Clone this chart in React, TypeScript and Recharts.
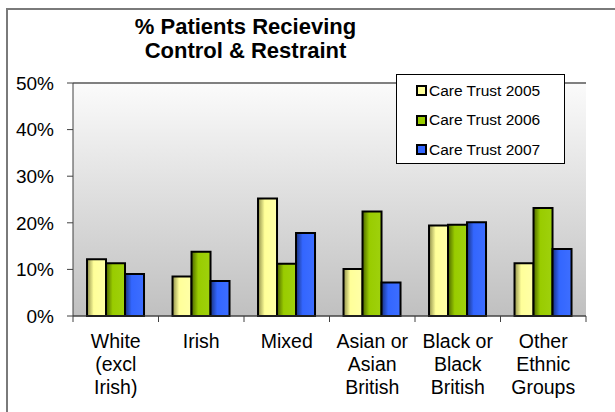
import * as React from 'react';
import { BarChart, Bar, XAxis, YAxis, CartesianGrid, ReferenceLine } from 'recharts';

const categories = [
    'White\n(excl\nIrish)',
    'Irish',
    'Mixed',
    'Asian or\nAsian\nBritish',
    'Black or\nBlack\nBritish',
    'Other\nEthnic\nGroups',
];
const trust2005 = [12.2, 8.5, 25.2, 10.1, 19.4, 11.3];
const trust2006 = [11.3, 13.8, 11.2, 22.4, 19.6, 23.2];
const trust2007 = [9.0, 7.5, 17.8, 7.2, 20.1, 14.4];
const seriesNames = ['Care Trust 2005', 'Care Trust 2006', 'Care Trust 2007'];
const yTicks = [0, 10, 20, 30, 40, 50];

const FONT = '"Liberation Sans", Arial, sans-serif';
const WIDTH = 615;
const HEIGHT = 412;
const PLOT_LEFT = 73;
const PLOT_RIGHT = 586;
const HALF_BAND = (PLOT_RIGHT - PLOT_LEFT) / categories.length / 2;

const seriesStyle = [
    { key: 'y2005', id: 'gradYellow', dark: '#8f8f4a', base: '#ffff99', light: '#ffffa8' },
    { key: 'y2006', id: 'gradGreen', dark: '#4d6600', base: '#99cc00', light: '#9fd10d' },
    { key: 'y2007', id: 'gradBlue', dark: '#1a3380', base: '#3366ff', light: '#3d6eff' },
];

const data = categories.map((name, i) => ({
    name,
    y2005: trust2005[i],
    y2006: trust2006[i],
    y2007: trust2007[i],
}));

function CategoryTick(props: any) {
    const { x, y, payload, index } = props;
    const lines = String(payload.value).split('\n');
    return (
        <g>
            <line x1={x - HALF_BAND} y1={y} x2={x - HALF_BAND} y2={y + 6} stroke="#404040" />
            {index === categories.length - 1 && (
                <line x1={x + HALF_BAND} y1={y} x2={x + HALF_BAND} y2={y + 6} stroke="#404040" />
            )}
            <text x={x} y={y} textAnchor="middle" fill="#000" fontSize={19.5} fontFamily={FONT}>
                {lines.map((l, i) => (
                    <tspan key={i} x={x} dy={i === 0 ? 32 : 23}>
                        {l}
                    </tspan>
                ))}
            </text>
        </g>
    );
}

function LegendBox() {
    return (
        <div
            style={{
                position: 'absolute',
                left: 396,
                top: 74,
                width: 169,
                height: 90,
                border: '1px solid #000',
                background: '#fff',
                boxSizing: 'border-box',
                paddingTop: 1,
            }}
        >
            {seriesNames.map((n, i) => (
                <div
                    key={n}
                    style={{
                        display: 'flex',
                        alignItems: 'center',
                        height: 29.5,
                        paddingLeft: 19,
                        fontFamily: FONT,
                        fontSize: 15.5,
                        color: '#000',
                    }}
                >
                    <span
                        style={{
                            display: 'inline-block',
                            width: 7,
                            height: 7,
                            border: '2px solid #000',
                            background: seriesStyle[i].base,
                            marginRight: 2,
                        }}
                    />
                    {n}
                </div>
            ))}
        </div>
    );
}

export default function App() {
    return (
        <div style={{ position: 'absolute', left: 0, top: 0, width: WIDTH, height: HEIGHT, background: '#fff', overflow: 'hidden' }}>
            <div
                style={{
                    position: 'absolute',
                    left: 6,
                    top: 8,
                    width: WIDTH + 20,
                    height: HEIGHT + 20,
                    borderTop: '2px solid #7a7a7a',
                    borderLeft: '2px solid #7a7a7a',
                }}
            />
            <div
                style={{
                    position: 'absolute',
                    left: 95,
                    width: 301,
                    top: 15,
                    textAlign: 'center',
                    fontFamily: FONT,
                    fontWeight: 'bold',
                    fontSize: 22,
                    lineHeight: '24px',
                    color: '#000',
                }}
            >
                % Patients Recieving
                <br />
                Control &amp; Restraint
            </div>
            <BarChart
                width={WIDTH}
                height={HEIGHT}
                data={data}
                margin={{ top: 83, right: WIDTH - PLOT_RIGHT, left: PLOT_LEFT - 60, bottom: 6 }}
                barCategoryGap="16.4%"
                barGap={0}
                style={{ position: 'absolute', left: 0, top: 0 }}
            >
                <defs>
                    <linearGradient id="plotBg" x1="0" y1="0" x2="0" y2="1">
                        <stop offset="0%" stopColor="#fbfbfb" />
                        <stop offset="100%" stopColor="#c0c0c0" />
                    </linearGradient>
                    {seriesStyle.map(s => (
                        <linearGradient key={s.id} id={s.id} x1="0" y1="0" x2="1" y2="0">
                            <stop offset="0%" stopColor={s.dark} />
                            <stop offset="35%" stopColor={s.base} />
                            <stop offset="100%" stopColor={s.light} />
                        </linearGradient>
                    ))}
                </defs>
                <CartesianGrid
                    vertical={false}
                    fill="url(#plotBg)"
                    fillOpacity={1}
                    stroke="#505050"
                    strokeWidth={1}
                />
                <XAxis
                    dataKey="name"
                    interval={0}
                    height={90}
                    tickSize={0}
                    tickMargin={0}
                    tickLine={false}
                    axisLine={{ stroke: '#404040', strokeWidth: 1 }}
                    tick={<CategoryTick />}
                />
                <YAxis
                    yAxisId="left"
                    width={60}
                    domain={[0, 50]}
                    ticks={yTicks}
                    interval={0}
                    tickFormatter={v => `${v}%`}
                    tickSize={6}
                    tickMargin={13}
                    tickLine={{ stroke: '#404040' }}
                    axisLine={{ stroke: '#404040', strokeWidth: 1 }}
                    tick={{ fill: '#000', fontSize: 19, fontFamily: FONT }}
                />
                <YAxis
                    yAxisId="right"
                    orientation="right"
                    width={0}
                    domain={[0, 50]}
                    tick={false}
                    tickLine={false}
                    axisLine={{ stroke: '#808080', strokeWidth: 2 }}
                />
                <ReferenceLine yAxisId="left" y={50} stroke="#808080" strokeWidth={2} />
                {seriesStyle.map((s, i) => (
                    <Bar
                        key={s.key}
                        yAxisId="left"
                        dataKey={s.key}
                        name={seriesNames[i]}
                        fill={`url(#${s.id})`}
                        stroke="#000"
                        strokeWidth={2}
                        isAnimationActive={false}
                    />
                ))}
            </BarChart>
            <LegendBox />
        </div>
    );
}
